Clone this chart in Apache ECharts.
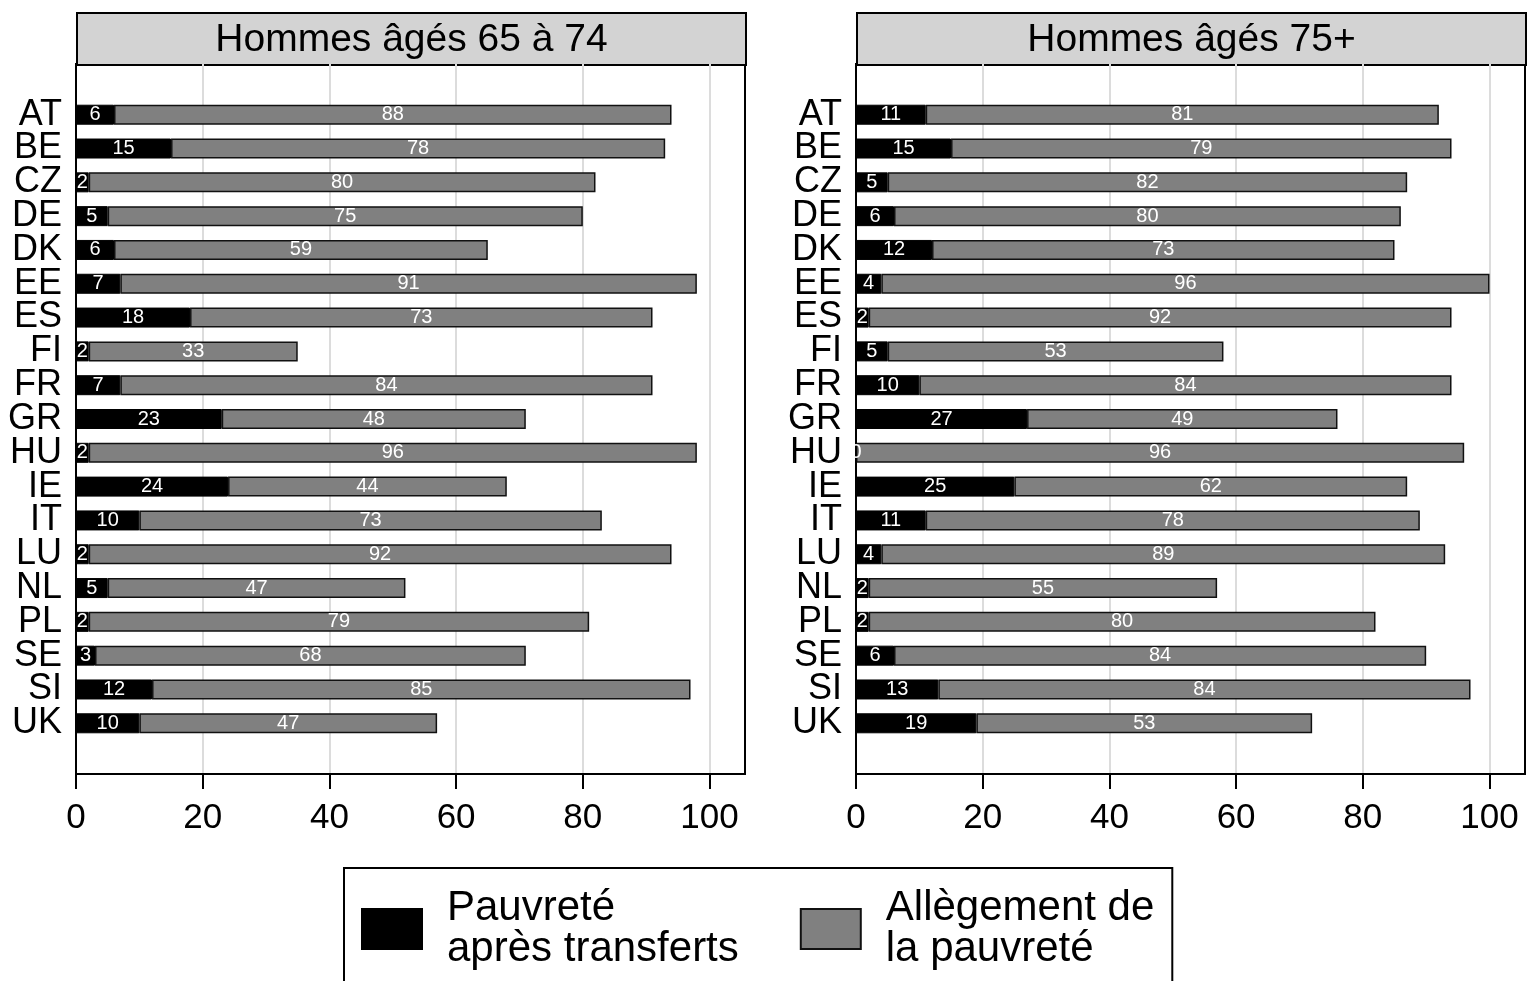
<!DOCTYPE html>
<html>
<head>
<meta charset="utf-8">
<script src="https://cdn.jsdelivr.net/npm/echarts@6/dist/echarts.min.js"></script>
<style>
  html, body { margin: 0; padding: 0; background: #fff; }
  #chart { width: 1527px; height: 981px; }
</style>
</head>
<body>
<div id="chart"></div>
<script>
// Countries, top to bottom
const countries = ['AT','BE','CZ','DE','DK','EE','ES','FI','FR','GR','HU','IE','IT','LU','NL','PL','SE','SI','UK'];

// Men aged 65 to 74
const poverty6574 = [6,15,2,5,6,7,18,2,7,23,2,24,10,2,5,2,3,12,10];
const relief6574  = [88,78,80,75,59,91,73,33,84,48,96,44,73,92,47,79,68,85,47];

// Men aged 75+
const poverty75 = [11,15,5,6,12,4,2,5,10,27,0,25,11,4,2,2,6,13,19];
const relief75  = [81,79,82,80,73,96,92,53,84,49,96,62,78,89,55,80,84,84,53];

const panelTitles = ['Hommes âgés 65 à 74', 'Hommes âgés 75+'];
const seriesNames = ['Pauvreté\naprès transferts', 'Allègement de\nla pauvreté'];
const xTicks = [0, 20, 40, 60, 80, 100];

const FONT = '"Liberation Sans", Arial, Helvetica, sans-serif';

// One empty slot above and below the country list gives the plot its margins
const cats = [''].concat(countries, ['']);
const pad = arr => [null].concat(arr, [null]);

const panels = [
  { left: 76, poverty: poverty6574, relief: relief6574 },
  { left: 856, poverty: poverty75, relief: relief75 }
];
const PANEL_W = 669, PLOT_TOP = 64, PLOT_H = 710, HEAD_TOP = 12;

const grid = [], xAxis = [], yAxis = [], series = [], graphic = [];

panels.forEach((p, i) => {
  grid.push({
    left: p.left, top: PLOT_TOP, width: PANEL_W, height: PLOT_H,
    show: true, borderColor: '#000', borderWidth: 2, backgroundColor: '#fff'
  });
  xAxis.push({
    type: 'value', gridIndex: i, min: 0, max: 105.6, interval: 20,
    axisLine: { show: true, lineStyle: { color: '#000', width: 2 } },
    axisTick: { show: true, length: 15, lineStyle: { color: '#000', width: 2 }, customValues: xTicks },
    axisLabel: { fontSize: 35, color: '#000', fontFamily: FONT, margin: 27, customValues: xTicks },
    splitLine: { show: true, lineStyle: { color: '#dcdcdc', width: 2 } }
  });
  yAxis.push({
    type: 'category', gridIndex: i, data: cats, inverse: true,
    axisLine: { show: true, lineStyle: { color: '#000', width: 2 } },
    axisTick: { show: false },
    axisLabel: { fontSize: 36, color: '#000', fontFamily: FONT, margin: 14, interval: 0 },
    splitLine: { show: false }
  });
  const label = {
    show: true, position: 'inside', color: '#fff', fontSize: 20, fontFamily: FONT
  };
  series.push({
    name: seriesNames[0], type: 'bar', xAxisIndex: i, yAxisIndex: i, stack: 'p' + i,
    barWidth: 20, data: pad(p.poverty),
    itemStyle: { color: '#000', borderColor: '#000', borderWidth: 1 },
    label: label, z: 3
  });
  series.push({
    name: seriesNames[1], type: 'bar', xAxisIndex: i, yAxisIndex: i, stack: 'p' + i,
    barWidth: 20, data: pad(p.relief),
    itemStyle: { color: '#808080', borderColor: '#111', borderWidth: 1.5 },
    label: label, z: 2
  });
  // Panel heading strip
  graphic.push({
    type: 'group', left: p.left, top: HEAD_TOP,
    children: [
      { type: 'rect', shape: { x: 0, y: 0, width: PANEL_W, height: PLOT_TOP - HEAD_TOP },
        style: { fill: '#d3d3d3', stroke: '#000', lineWidth: 2 } },
      { type: 'text', x: PANEL_W / 2, y: (PLOT_TOP - HEAD_TOP) / 2 + 1,
        style: { text: panelTitles[i], fill: '#000', font: '39px ' + FONT,
                 align: 'center', verticalAlign: 'middle' } }
    ]
  });
});

const chart = echarts.init(document.getElementById('chart'), null, { renderer: 'canvas' });
chart.setOption({
  animation: false,
  backgroundColor: '#fff',
  grid, xAxis, yAxis, series, graphic,
  legend: {
    data: seriesNames,
    left: 344, top: 868,
    orient: 'horizontal',
    icon: 'rect',
    itemWidth: 60, itemHeight: 40, itemGap: 61,
    padding: [16, 18, 40, 17],
    borderColor: '#000', borderWidth: 2,
    selectedMode: false,
    textStyle: { fontSize: 42, color: '#000', fontFamily: FONT, lineHeight: 41, padding: [8, 0, 0, 20] }
  }
});
</script>
</body>
</html>
